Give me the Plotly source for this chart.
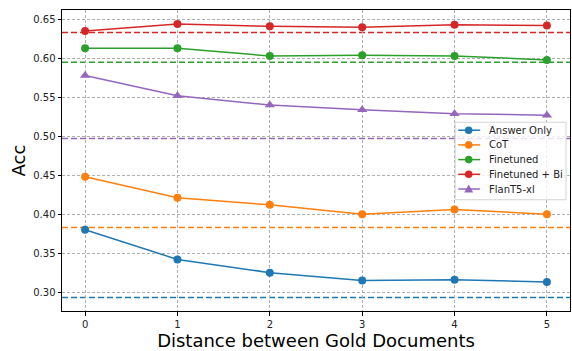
import plotly.graph_objects as go

# Distance between gold documents
distance = [0, 1, 2, 3, 4, 5]

answer_only = [0.380, 0.342, 0.325, 0.315, 0.316, 0.313]
cot = [0.448, 0.421, 0.412, 0.400, 0.406, 0.400]
finetuned = [0.613, 0.613, 0.603, 0.604, 0.603, 0.598]
finetuned_bi = [0.635, 0.644, 0.641, 0.640, 0.643, 0.642]
flant5_xl = [0.578, 0.552, 0.540, 0.534, 0.529, 0.527]

# Baselines (dashed horizontal reference lines)
baseline_answer_only = 0.293
baseline_cot = 0.383
baseline_finetuned = 0.595
baseline_finetuned_bi = 0.633
baseline_flant5_xl = 0.497

y_ticks = [0.30, 0.35, 0.40, 0.45, 0.50, 0.55, 0.60, 0.65]

series = [
    ("Answer Only", answer_only, baseline_answer_only, "#1f77b4", "circle"),
    ("CoT", cot, baseline_cot, "#ff7f0e", "circle"),
    ("Finetuned", finetuned, baseline_finetuned, "#2ca02c", "circle"),
    ("Finetuned + Bi", finetuned_bi, baseline_finetuned_bi, "#d62728", "circle"),
    ("FlanT5-xl", flant5_xl, baseline_flant5_xl, "#9467bd", "triangle-up"),
]

W, H = 572, 351
M = dict(l=62, r=1, t=10, b=38)
PW = W - M["l"] - M["r"]
PH = H - M["t"] - M["b"]


def px_to_paper(px, py):
    return (px - M["l"]) / PW, (H - M["b"] - py) / PH


fig = go.Figure()

for name, vals, base, color, sym in series:
    fig.add_hline(y=base, line=dict(color=color, width=1.5, dash="6px,3px"), layer="below")

for name, vals, base, color, sym in series:
    fig.add_trace(go.Scatter(
        x=distance, y=vals, name=name, mode="lines+markers",
        line=dict(color=color, width=1.5),
        marker=dict(color=color, size=8 if sym == "circle" else 9, symbol=sym),
        showlegend=False,
    ))

font_family = "DejaVu Sans"

# Legend box drawn in the lower-right part of the axes
x0, y0 = px_to_paper(456, 123)
x1, y1 = px_to_paper(567, 201)
fig.add_shape(type="rect", xref="paper", yref="paper", x0=x0, y0=y1, x1=x1, y1=y0,
              line=dict(color="#d4d4d4", width=1), fillcolor="rgba(255,255,255,0.8)",
              layer="above")

row_top, row_step = 131, 14.8
for i, (name, vals, base, color, sym) in enumerate(series):
    py = row_top + i * row_step
    lx0, ly = px_to_paper(459, py)
    lx1, _ = px_to_paper(481, py)
    mx, _ = px_to_paper(469.5, py)
    tx, _ = px_to_paper(488, py)
    fig.add_shape(type="line", xref="paper", yref="paper", x0=lx0, x1=lx1, y0=ly, y1=ly,
                  line=dict(color=color, width=1.5), layer="above")
    if sym == "circle":
        fig.add_shape(type="circle", xref="paper", yref="paper",
                      xsizemode="pixel", ysizemode="pixel", xanchor=mx, yanchor=ly,
                      x0=-3.8, x1=3.8, y0=-3.8, y1=3.8,
                      fillcolor=color, line=dict(color=color, width=0), layer="above")
    else:
        fig.add_shape(type="path", xref="paper", yref="paper",
                      xsizemode="pixel", ysizemode="pixel", xanchor=mx, yanchor=ly,
                      path="M -4.5 -3.5 L 4.5 -3.5 L 0 4.5 Z",
                      fillcolor=color, line=dict(color=color, width=0), layer="above")
    fig.add_annotation(x=tx, y=ly, xref="paper", yref="paper", text=name,
                       showarrow=False, xanchor="left", yanchor="middle",
                       font=dict(family=font_family, size=10, color="#222"))

fig.update_layout(
    width=W, height=H,
    margin=M,
    plot_bgcolor="white", paper_bgcolor="white",
    font=dict(family=font_family, size=10, color="#222"),
    showlegend=False,
    xaxis=dict(
        range=[-0.25, 5.25], tickmode="array", tickvals=distance,
        ticktext=[str(d) for d in distance],
        showgrid=True, gridcolor="#b0b0b0", griddash="3px,2px", gridwidth=1,
        showline=True, linecolor="black", linewidth=1, mirror=True,
        ticks="outside", ticklen=3.5, tickcolor="black",
        zeroline=False,
        title=dict(text="Distance between Gold Documents",
                   font=dict(family=font_family, size=18, color="black"), standoff=8),
    ),
    yaxis=dict(
        range=[0.2758, 0.662], tickmode="array", tickvals=y_ticks,
        ticktext=[f"{v:.2f}" for v in y_ticks],
        showgrid=True, gridcolor="#b0b0b0", griddash="3px,2px", gridwidth=1,
        showline=True, linecolor="black", linewidth=1, mirror=True,
        ticks="outside", ticklen=3.5, tickcolor="black",
        zeroline=False,
        title=dict(text="Acc", font=dict(family=font_family, size=18, color="black"), standoff=2),
    ),
)

fig.write_html("out.html")
